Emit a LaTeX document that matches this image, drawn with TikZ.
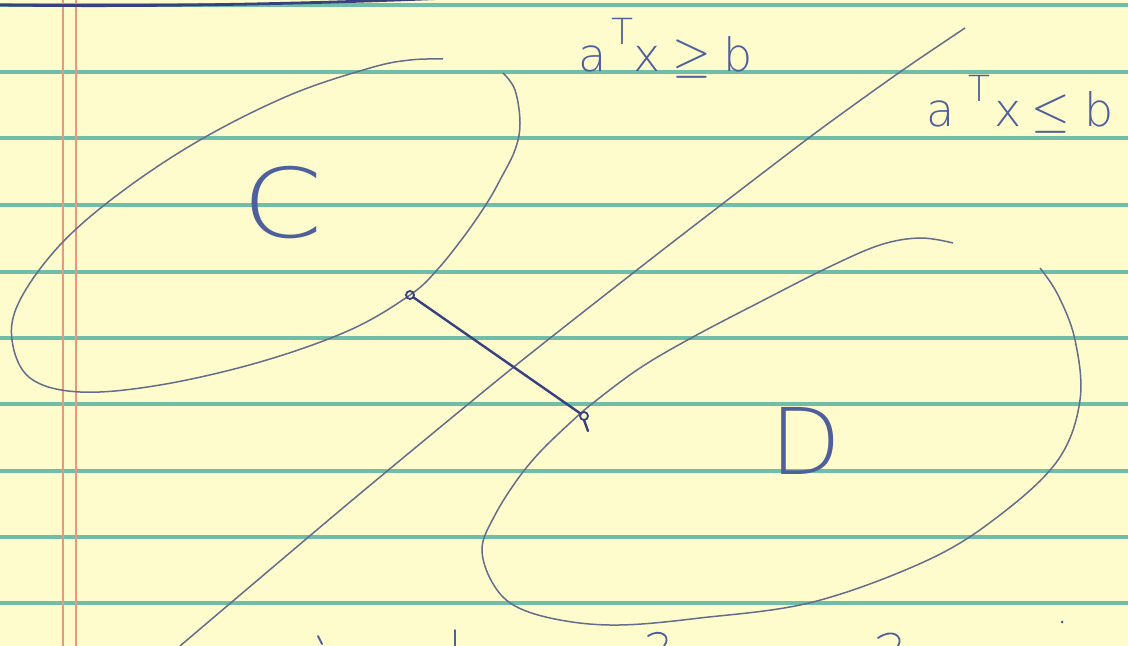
\documentclass[tikz,border=0pt]{standalone}
\usepackage{fontspec}
\newfontfamily\handfont{DejaVuSans-ExtraLight}[Extension=.ttf]
\begin{document}
\begin{tikzpicture}[x=0.5pt,y=-0.5pt,
  every node/.style={inner sep=0pt,outer sep=0pt},
  rule/.style={draw=ruleblue,line width=2pt},
  margin/.style={draw=marginred,line width=0.9pt},
  pencil/.style={draw=pencilc,line width=0.75pt},
  seg/.style={draw=inkdark,line width=1.2pt,line cap=round},
  endpt/.style={circle,draw=inkdark,line width=0.9pt,minimum size=4pt},
  lbl/.style={text=ink,font=\handfont\fontsize{23}{26}\selectfont},
  big/.style={text=ink,font=\handfont\fontsize{48}{52}\selectfont},
  inkline/.style={draw=ink,line width=0.9pt,line cap=round}]
\definecolor{paper}{RGB}{254,252,204}
\definecolor{ruleblue}{RGB}{112,190,168}
\definecolor{marginred}{RGB}{238,150,125}
\definecolor{pencilc}{RGB}{100,110,140}
\definecolor{ink}{RGB}{78,96,155}
\definecolor{inkdark}{RGB}{55,65,125}
\useasboundingbox (0,0) rectangle (1128,646);
\fill[paper] (0,0) rectangle (1128,646);
\foreach \yy in {5,72,138,205,272,338,404,471,537,603}
  \draw[rule] (0,\yy) -- (1128,\yy);
\draw[margin] (63,0) -- (63,646);
\draw[margin] (76,0) -- (76,646);
% top pen stroke
\draw[draw=inkdark,line width=1.4pt] (0,5) .. controls (150,7) and (300,4) .. (450,-2);
% set C (open stroke)
\draw[pencil] plot[smooth,tension=0.6] coordinates {
  (503,73) (515,90) (520,123) (515,150) (500,180) (487,203) (465,235)
  (437,270) (410,295) (350,330) (260,362) (160,385) (80,392) (30,378)
  (12,340) (20,300) (60,245) (120,193) (200,140) (290,95) (370,68)
  (410,60) (443,59)};
% set D (open stroke)
\draw[pencil] plot[smooth,tension=0.6] coordinates {
  (953,243) (920,238) (880,245) (827,268) (760,302) (693,337) (640,368)
  (593,403) (570,423) (540,452) (517,480) (495,515) (482,548) (492,582)
  (515,606) (560,620) (619,625) (700,618) (813,602) (928,560) (1000,515)
  (1058,460) (1080,400) (1075,340) (1058,295) (1040,268)};
% separating hyperplane
\draw[pencil] plot[smooth,tension=0.4] coordinates {
  (965,28) (900,72) (810,137) (660,252) (510,370) (350,502) (180,646)};
% closest points and segment
\node[endpt] (p1) at (410,295) {};
\node[endpt] (p2) at (584,416) {};
\coordinate (tail) at (588,431);
\draw[seg] (p1) -- (p2);
\draw[seg] (p2.south) -- (tail);
% labels
\node[big,anchor=base west] (C) at (242,238) {\scalebox{1.2}[1]{C}};
\node[big,anchor=base west,font=\handfont\fontsize{46}{50}\selectfont] (D) at (770,474) {D};
\node[lbl,anchor=base west] (geq) at (578,72)
  {a\hspace{2.5pt}\raisebox{13.5pt}{\fontsize{18}{18}\selectfont T}\hspace{0pt}x\hspace{6pt}{\fontsize{25}{25}\selectfont$\geq$}\hspace{6pt}b};
\node[lbl,anchor=base west] (leq) at (926,127)
  {a\hspace{7pt}\raisebox{12.5pt}{\fontsize{18}{18}\selectfont T}\hspace{2pt}x\hspace{5pt}{\fontsize{25}{25}\selectfont$\leq$}\hspace{7pt}b};
% fragments of writing cut off at the bottom edge
\draw[inkline] (318,636) -- (322,644);
\draw[inkline] (455,630) -- (455,646);
\draw[inkline] (648,636) .. controls (660,628) and (672,636) .. (664,646);
\draw[inkline] (878,638) .. controls (892,628) and (904,636) .. (898,646);
\fill[ink] (1062,622) circle (1.5);
\end{tikzpicture}
\end{document}
